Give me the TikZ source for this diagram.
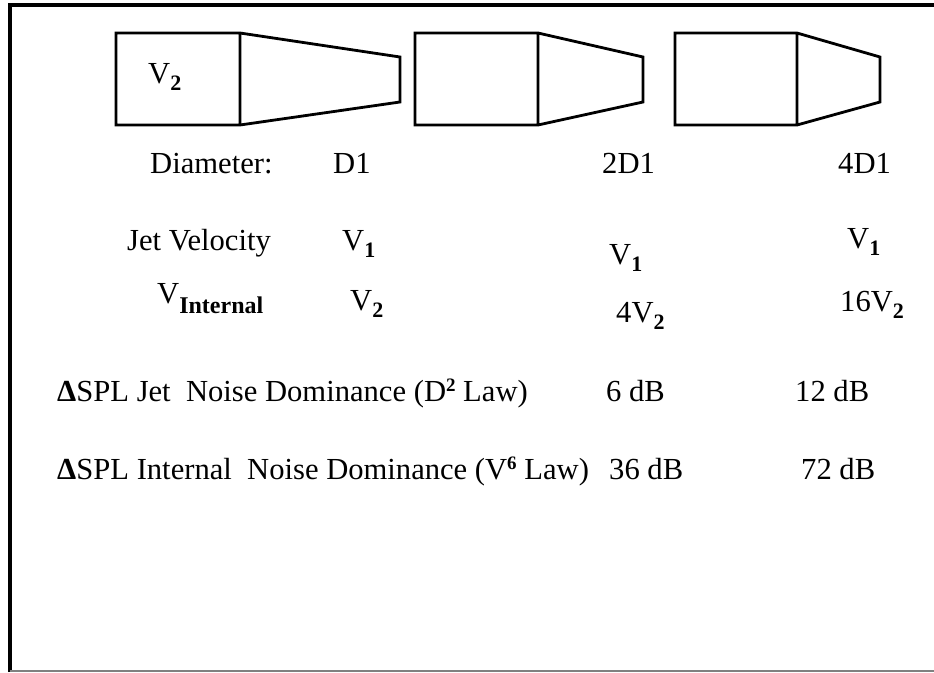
\documentclass[tikz,border=0pt]{standalone}
\usepackage{fontspec}
\setmainfont{Liberation Serif}
\newcommand{\lo}[3][7pt]{\raisebox{-#1}{\fontsize{#2}{#2}\selectfont\bfseries #3}}
\newcommand{\hi}[1]{\raisebox{0.3em}{\fontsize{19}{19}\selectfont\bfseries #1}}

\begin{document}
\begin{tikzpicture}[x=1pt,y=-1pt,
	txt/.style = {font=\fontsize{30.6}{33}\selectfont,inner sep=0pt,anchor=base west},
	nozzle/.style = {draw,line width=2.8pt,line join=miter}
	]
	\useasboundingbox (0,0) rectangle (934,672);
	%CORNICE
	\draw[line width=4pt] (10,672) -- (10,4.5) -- (934,4.5);
	\draw[gray,line width=2pt] (10,671) -- (934,671);
	%UGELLI
	\draw[nozzle] (116,33) -- (240,33) -- (400,57) -- (400,102) -- (240,125) -- (116,125) -- cycle (240,33) -- (240,125);
	\draw[nozzle] (415,33) -- (538,33) -- (643,57) -- (643,102) -- (538,125) -- (415,125) -- cycle (538,33) -- (538,125);
	\draw[nozzle] (675,33) -- (797,33) -- (880,57) -- (880,102) -- (797,125) -- (675,125) -- cycle (797,33) -- (797,125);
	\node[txt] (vin) at (148,83) {V\lo{22}{2}};
	%DIAMETRI
	\node[txt] (diam) at (150,173) {Diameter:};
	\node[txt] (d1) at (333,173) {D1};
	\node[txt] (d2) at (602,173) {2D1};
	\node[txt] (d3) at (838,173) {4D1};
	%VELOCITA
	\node[txt] (jet) at (127,250) {Jet Velocity};
	\node[txt] (vj1) at (342,250) {V\lo{22}{1}};
	\node[txt] (vj2) at (609,264) {V\lo{22}{1}};
	\node[txt] (vj3) at (847,248) {V\lo{22}{1}};
	\node[txt] (int) at (157,303) {V\lo[10pt]{24}{Internal}};
	\node[txt] (vi1) at (350,310) {V\lo{22}{2}};
	\node[txt] (vi2) at (616,322) {4V\lo{22}{2}};
	\node[txt] (vi3) at (840,311) {16V\lo{22}{2}};
	%RUMORE
	\node[txt] (spljet) at (57,401) {\textbf{Δ}SPL Jet\ \ Noise Dominance (D\hi{2} Law)};
	\node[txt] (sj2) at (606,401) {6 dB};
	\node[txt] (sj3) at (795,401) {12 dB};
	\node[txt] (splint) at (57,479) {\textbf{Δ}SPL Internal\ \ Noise Dominance (V\hi{6} Law)};
	\node[txt] (si2) at (609,479) {36 dB};
	\node[txt] (si3) at (801,479) {72 dB};
\end{tikzpicture}
\end{document}
